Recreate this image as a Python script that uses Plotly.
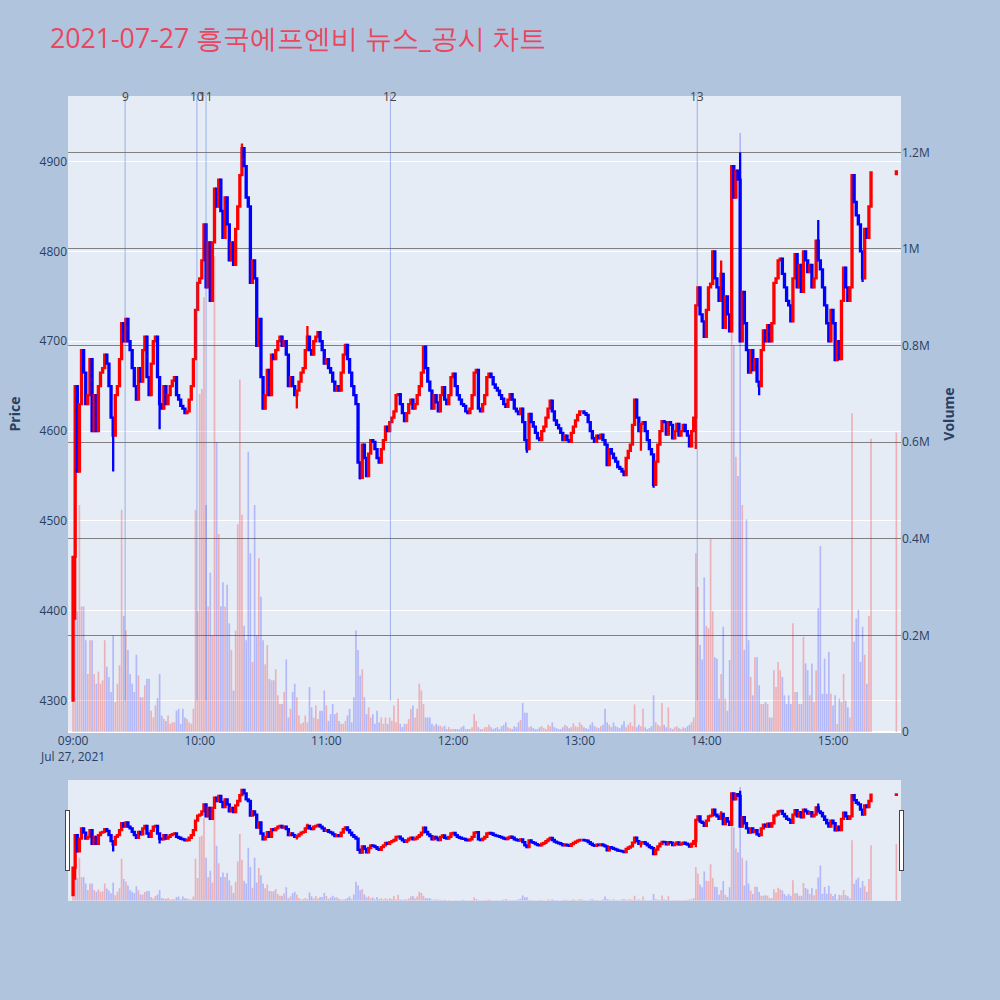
import pandas as pd
import plotly.graph_objects as go

# 기본 정보
day = '2021-07-27'
chart_title = '2021-07-27 흥국에프엔비 뉴스_공시 차트'

# 분봉 종가 (09:00 ~ 15:18, 1분 간격)
closes = [
    4460, 4650, 4555, 4630, 4690, 4665, 4630, 4640, 4680, 4600,
    4640, 4600, 4650, 4665, 4670, 4685, 4675, 4650, 4615, 4595,
    4640, 4650, 4680, 4720, 4700, 4725, 4700, 4690, 4670, 4650,
    4635, 4670, 4655, 4690, 4705, 4660, 4640, 4675, 4700, 4705,
    4660, 4630, 4625, 4650, 4630, 4640, 4650, 4656, 4660, 4640,
    4635, 4628, 4625, 4620, 4622, 4635, 4650, 4680, 4735, 4765,
    4770, 4790, 4830, 4760, 4810, 4745, 4810, 4870, 4850, 4880,
    4845, 4815, 4860, 4830, 4790, 4810, 4785, 4825, 4850, 4885,
    4915, 4895, 4860, 4850, 4765, 4790, 4770, 4695, 4725, 4660,
    4625, 4640, 4668, 4640, 4685, 4680, 4690, 4700, 4705, 4695,
    4700, 4685, 4650, 4660, 4650, 4640, 4645, 4655, 4665, 4670,
    4690, 4705, 4690, 4685, 4700, 4705, 4710, 4700, 4690, 4675,
    4680, 4670, 4665, 4655, 4645, 4650, 4645, 4665, 4685, 4696,
    4680, 4665, 4650, 4640, 4630, 4565, 4548, 4585, 4570, 4550,
    4575, 4590, 4588, 4580, 4570, 4565, 4580, 4590, 4605, 4600,
    4610, 4615, 4622, 4640, 4641, 4630, 4620, 4611, 4620, 4630,
    4635, 4625, 4630, 4640, 4650, 4665, 4694, 4670, 4655, 4645,
    4625, 4640, 4632, 4622, 4640, 4649, 4635, 4630, 4640, 4660,
    4664, 4650, 4640, 4635, 4630, 4628, 4622, 4620, 4625, 4640,
    4665, 4668, 4625, 4622, 4630, 4640, 4660, 4664, 4660, 4652,
    4648, 4645, 4640, 4636, 4630, 4627, 4635, 4641, 4635, 4625,
    4622, 4619, 4625, 4610, 4590, 4580, 4619, 4610, 4605, 4598,
    4592, 4590, 4600, 4605, 4615, 4625, 4634, 4622, 4612, 4607,
    4603, 4598, 4590, 4595, 4590, 4588, 4598, 4605, 4612, 4618,
    4622, 4622, 4620, 4618, 4610, 4600, 4592, 4588, 4595, 4592,
    4596, 4590, 4585, 4562, 4580, 4575, 4570, 4566, 4560, 4558,
    4555, 4551, 4570, 4578, 4585, 4607, 4635, 4615, 4600, 4608,
    4610, 4600, 4590, 4580, 4574, 4540, 4566, 4585, 4600, 4611,
    4610, 4596, 4610, 4607, 4592, 4600, 4608, 4595, 4600, 4607,
    4600, 4595, 4583, 4600, 4615, 4740, 4760, 4730, 4722, 4705,
    4735, 4760, 4764, 4800, 4770, 4760, 4745, 4775, 4715, 4750,
    4730, 4711, 4895, 4860, 4890, 4880, 4700, 4755, 4720, 4690,
    4665, 4690, 4668, 4680, 4655, 4650, 4690, 4712, 4700, 4718,
    4700, 4720, 4765, 4770, 4790, 4792, 4775, 4760, 4745, 4740,
    4722, 4770, 4797, 4760, 4785, 4755, 4800, 4790, 4777, 4785,
    4760, 4770, 4812, 4790, 4780, 4760, 4740, 4720, 4700, 4735,
    4720, 4679, 4700, 4680, 4745, 4782, 4760, 4745, 4760, 4885,
    4855, 4840, 4830, 4800, 4770, 4825, 4815, 4850, 4888,
]

# 분봉 거래량 (천주)
volumes_k = [
    70, 420, 250, 470, 260, 260, 190, 120, 190, 190,
    120, 100, 125, 100, 107, 190, 135, 114, 83, 200,
    62, 100, 138, 460, 240, 210, 170, 120, 100, 83,
    160, 117, 72, 72, 97, 110, 110, 44, 30, 55,
    70, 120, 34, 27, 23, 34, 17, 20, 20, 44,
    48, 17, 48, 30, 27, 20, 17, 48, 460, 250,
    700, 710, 900, 470, 260, 330, 200, 985, 600, 410,
    260, 310, 260, 305, 225, 170, 86, 210, 430, 730,
    450, 220, 190, 580, 370, 145, 470, 200, 360, 280,
    190, 140, 180, 110, 107, 107, 130, 76, 58, 58,
    83, 150, 30, 48, 83, 100, 72, 34, 17, 20,
    34, 20, 93, 51, 30, 55, 27, 44, 44, 86,
    55, 23, 37, 58, 37, 40, 23, 17, 17, 23,
    34, 48, 20, 72, 210, 170, 117, 130, 72, 37,
    51, 30, 37, 17, 44, 20, 30, 17, 30, 17,
    30, 23, 55, 20, 69, 17, 10, 17, 17, 27,
    48, 55, 30, 48, 100, 86, 58, 30, 30, 30,
    17, 13, 17, 13, 13, 10, 13, 6, 10, 6,
    6, 6, 6, 6, 10, 13, 6, 6, 6, 10,
    37, 23, 10, 6, 6, 10, 10,
    15, 10, 6, 8, 10, 6, 12, 15, 20, 10,
    8, 6, 12, 10, 20, 25, 60, 40, 40, 10,
    12, 8, 6, 6, 10, 12, 8, 6, 15, 12,
    20, 10, 8, 6, 6, 10, 15, 12, 8, 10,
    18, 12, 10, 20, 15, 10, 8, 6, 15, 20,
    12, 10, 8, 12, 15, 48, 20, 15, 10, 20,
    12, 10, 8, 15, 22, 10, 15, 20, 12, 57,
    10, 15, 12, 48, 10, 6, 8, 12, 76, 20,
    15, 12, 60, 15, 10, 51, 8, 6, 10, 12,
    8, 6, 10, 8, 12, 15, 20, 30,
    370, 300, 180, 150, 320, 220, 215, 400, 250, 155,
    152, 69, 120, 218, 69, 44, 149, 850, 800, 570,
    530, 1240, 470, 170, 440, 190, 114, 76, 155, 155,
    97, 58, 58, 62, 58, 30, 30, 128, 93, 145,
    128, 114, 76, 58, 76, 58, 225, 83, 83, 58,
    58, 197, 142, 128, 76, 142, 62, 128, 256, 385,
    79, 152, 79, 166, 79, 55, 76, 17, 69, 62,
    120, 65, 51, 30, 660, 187, 235, 253, 145, 218,
    160, 100, 240, 607,
]

first_open = 4300
# 몸통 밖으로 나간 꼬리 (분 인덱스: 가격)
low_wicks = {1: 4390, 19: 4555, 41: 4602, 106: 4625, 136: 4546, 139: 4550,
             215: 4576, 269: 4578, 275: 4537, 295: 4580, 325: 4640, 374: 4766}
high_wicks = {80: 4920, 111: 4717, 307: 4790, 316: 4910, 353: 4835}

# 15:30 종가 단일가
auction_time = '15:30'
auction_open = 4886
auction_close = 4889
auction_volume_k = 620

# 뉴스/공시 번호와 시각
news_no = [9, 10, 11, 12, 13]
news_time = ['09:24:40', '09:58:40', '10:03:00', '11:30:20', '13:55:40']

price_range = [4265, 4973]
volume_range = [0, 1316700]
vol_tickvals = [0, 200000, 400000, 600000, 800000, 1000000, 1200000]
vol_ticktext = ['0', '0.2M', '0.4M', '0.6M', '0.8M', '1M', '1.2M']
x_range = [f'{day} 08:57:36', f'{day} 15:32:12']

# 데이터프레임 만들기
times = list(pd.date_range(f'{day} 09:00', periods=len(closes), freq='min'))
times.append(pd.Timestamp(f'{day} {auction_time}'))
opens = [first_open] + closes[:-1] + [auction_open]
close_all = closes + [auction_close]
df = pd.DataFrame({'time': times, 'open': opens, 'close': close_all,
                   'volume': [v * 1000 for v in volumes_k + [auction_volume_k]]})
df['high'] = [max(o, c, high_wicks.get(i, 0)) for i, (o, c) in enumerate(zip(df['open'], df['close']))]
df['low'] = [min(o, c, low_wicks.get(i, 99999)) for i, (o, c) in enumerate(zip(df['open'], df['close']))]
bar_colors = ['rgba(255,0,0,0.25)' if c >= o else 'rgba(0,0,255,0.22)'
              for o, c in zip(df['open'], df['close'])]

fig = go.Figure()

fig.add_trace(go.Candlestick(
    x=df['time'], open=df['open'], high=df['high'], low=df['low'], close=df['close'],
    increasing=dict(line=dict(color='red', width=2.3), fillcolor='red'),
    decreasing=dict(line=dict(color='blue', width=2.3), fillcolor='blue'),
    name='Price'
))

fig.add_trace(go.Bar(
    x=df['time'], y=df['volume'], marker=dict(color=bar_colors, line=dict(width=0)),
    yaxis='y2', name='Volume'
))

# 뉴스 시각 세로선 + 번호
for n, t in zip(news_no, news_time):
    fig.add_shape(type='line', xref='x', yref='y',
                  x0=f'{day} {t}', x1=f'{day} {t}',
                  y0=df['low'].min(), y1=price_range[1],
                  line=dict(color='rgba(65,105,225,0.45)', width=1))
    fig.add_annotation(x=f'{day} {t}', y=1, xref='x', yref='paper',
                       text=str(n), showarrow=False, yanchor='middle',
                       font=dict(size=12, color='#444'))

fig.update_layout(
    title=dict(text=chart_title, x=0.05, font=dict(size=26.7, color='#E8475F')),
    width=1000,
    height=1000,
    paper_bgcolor='lightsteelblue',
    showlegend=False,
    margin=dict(l=68, r=99, t=96, b=100),
    xaxis=dict(range=x_range, showgrid=False,
               rangeslider=dict(visible=True, range=x_range, bgcolor='#E5ECF6')),
    yaxis=dict(title=dict(text='<b>Price</b>'), range=price_range),
    yaxis2=dict(title=dict(text='<b>Volume</b>'), overlaying='y', side='right',
                range=volume_range, tickvals=vol_tickvals, ticktext=vol_ticktext,
                showgrid=True, gridcolor='gray'),
)

# 페이지 여백 없애기 (1000x1000 창에 딱 맞게)
fig.write_html("out.html", config={'displayModeBar': False},
               post_script="document.body.style.margin='0';")
